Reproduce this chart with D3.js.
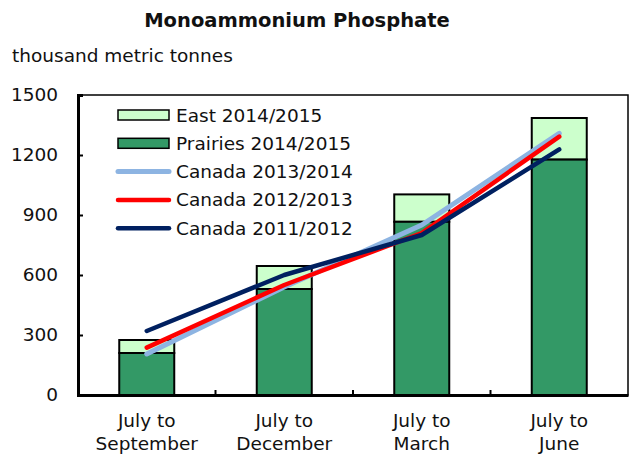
<!DOCTYPE html>
<html><head><meta charset="utf-8">
<script src="https://cdn.jsdelivr.net/npm/d3@7"></script>
<style>body{margin:0;background:#fff}svg{display:block}text{font-family:"DejaVu Sans",Verdana,sans-serif;fill:#111}</style>
</head><body><svg id="c" width="632" height="455"></svg>
<script>
const categories = [["July to","September"],["July to","December"],["July to","March"],["July to","June"]];
const prairies = [210, 530, 866, 1177];
const east = [65, 115, 137, 208];
const canada1314 = [205, 540, 850, 1308];
const canada1213 = [237, 550, 810, 1292];
const canada1112 = [320, 600, 800, 1228];
const yTicks = [0, 300, 600, 900, 1200, 1500];

const FS = "18.5px";
const svg = d3.select("#c");
const m = {l:78, r:628, t:95, b:395};
const x = d3.scaleBand().domain(d3.range(categories.length)).range([m.l, m.r]).paddingInner(0.6).paddingOuter(0.3);
const xb = d3.scaleBand().domain(d3.range(categories.length)).range([m.l, m.r]);
const y = d3.scaleLinear().domain([0,1500]).range([m.b, m.t]);

svg.append("text").attr("x",297).attr("y",27).attr("text-anchor","middle").style("font-weight","bold").style("font-size","19.5px").text("Monoammonium Phosphate");
svg.append("text").attr("x",12).attr("y",62).style("font-size",FS).text("thousand metric tonnes");

// frame
svg.append("rect").attr("x",m.l).attr("y",m.t).attr("width",m.r-m.l).attr("height",m.b-m.t).attr("fill","none").attr("stroke","#000").attr("stroke-width",1.5);

// bars
const g = svg.append("g");
categories.forEach((c,i)=>{
  g.append("rect").attr("x",x(i)).attr("width",x.bandwidth()).attr("y",y(prairies[i]+east[i])).attr("height",y(prairies[i])-y(prairies[i]+east[i])).attr("fill","#ccffcc").attr("stroke","#000").attr("stroke-width",2);
  g.append("rect").attr("x",x(i)).attr("width",x.bandwidth()).attr("y",y(prairies[i])).attr("height",y(0)-y(prairies[i])).attr("fill","#339966").attr("stroke","#000").attr("stroke-width",2);
});

const line = d3.line().x((d,i)=>xb(i)+xb.bandwidth()/2).y(d=>y(d));
const series = [
  {name:"Canada 2013/2014", v:canada1314, color:"#8db4e2", w:5},
  {name:"Canada 2012/2013", v:canada1213, color:"#ff0000", w:4.5},
  {name:"Canada 2011/2012", v:canada1112, color:"#002060", w:4.5}
];
series.forEach(s=>{
  svg.append("path").attr("d",line(s.v)).attr("fill","none").attr("stroke",s.color).attr("stroke-width",s.w).attr("stroke-linecap","round").attr("stroke-linejoin","round");
});

// axes
const ya = d3.axisLeft(y).tickValues(yTicks).tickFormat(d3.format("d")).tickSize(-5).tickPadding(20);
const yg = svg.append("g").attr("transform",`translate(${m.l},0)`).call(ya);
yg.select(".domain").attr("stroke-width",3);
yg.selectAll(".tick line").attr("stroke-width",2);
yg.selectAll("text").style("font-size",FS).attr("fill","#111").attr("font-family",null);

const xa = d3.axisBottom(xb).tickValues([]).tickSizeOuter(0);
const xg = svg.append("g").attr("transform",`translate(0,${m.b})`).call(xa);
xg.select(".domain").attr("stroke-width",3);
d3.range(1,categories.length).forEach(i=>{
  xg.append("line").attr("x1",xb(i)).attr("x2",xb(i)).attr("y1",0).attr("y2",-5).attr("stroke","#000").attr("stroke-width",2);
});
categories.forEach((c,i)=>{
  const cx = xb(i)+xb.bandwidth()/2;
  const t = svg.append("text").attr("text-anchor","middle").attr("x",cx).attr("y",427).style("font-size",FS);
  t.append("tspan").attr("x",cx).text(c[0]);
  t.append("tspan").attr("x",cx).attr("dy",23).text(c[1]);
});

// legend
const leg = [
  {name:"East 2014/2015", type:"bar", color:"#ccffcc"},
  {name:"Prairies 2014/2015", type:"bar", color:"#339966"},
  ...series.map(s=>({name:s.name,type:"line",color:s.color,w:s.w}))
];
leg.forEach((d,i)=>{
  const yy = 115 + i*28.3;
  if(d.type==="bar"){
    svg.append("rect").attr("x",118).attr("y",yy-5).attr("width",51).attr("height",10).attr("fill",d.color).attr("stroke","#000").attr("stroke-width",1.5);
  } else {
    svg.append("line").attr("x1",118).attr("x2",169).attr("y1",yy).attr("y2",yy).attr("stroke",d.color).attr("stroke-width",d.w).attr("stroke-linecap","round");
  }
  svg.append("text").attr("x",176).attr("y",yy+6.5).style("font-size",FS).text(d.name);
});
</script></body></html>
